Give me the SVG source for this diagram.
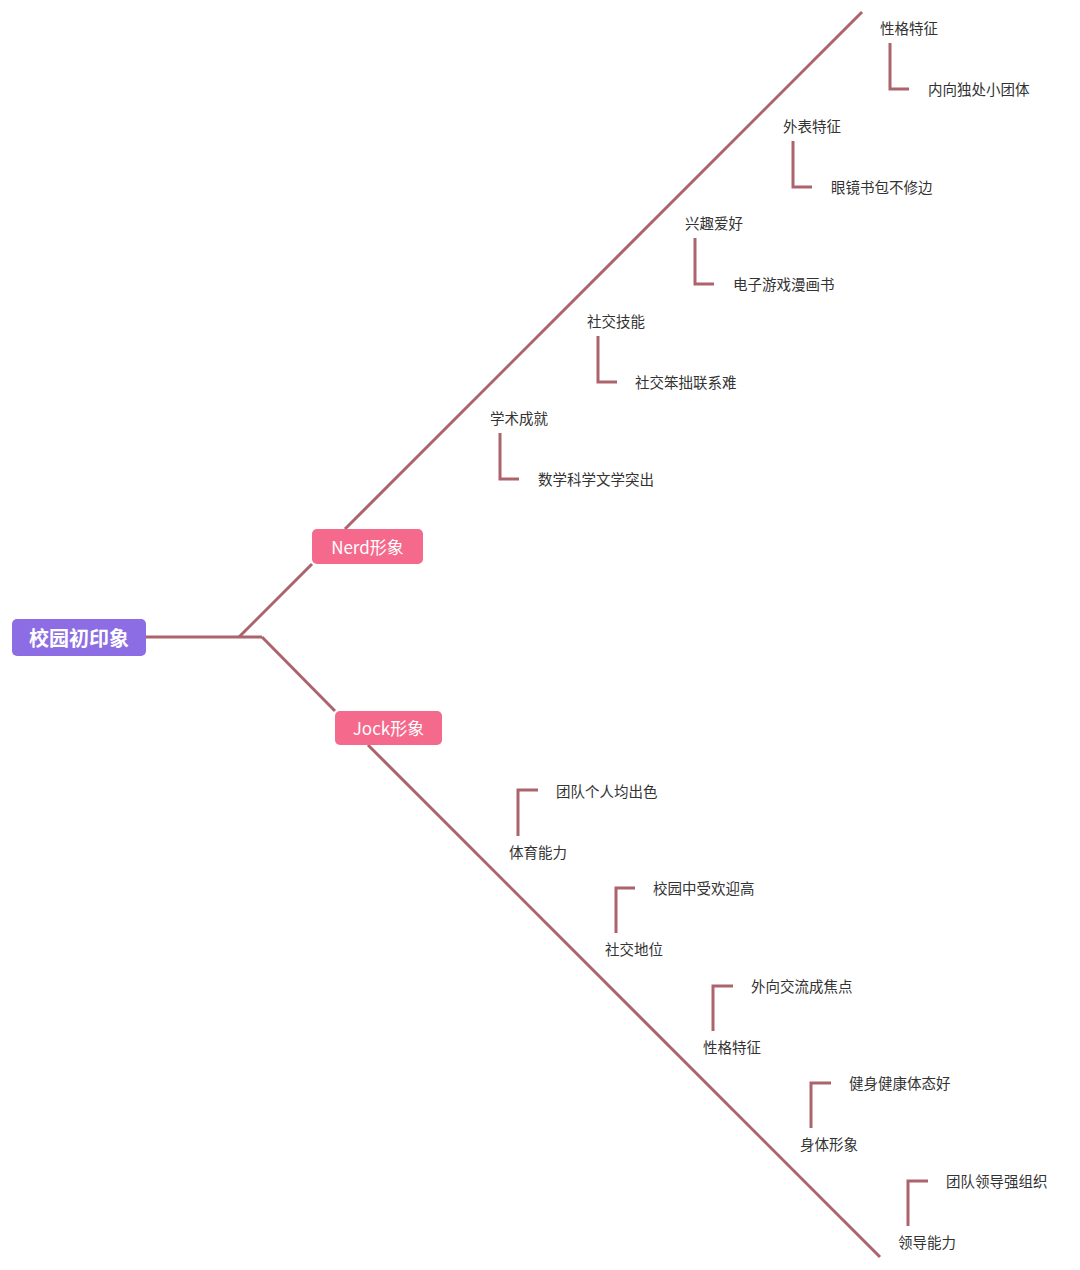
<svg xmlns="http://www.w3.org/2000/svg" width="1080" height="1270" viewBox="0 0 1080 1270">
<style>
.ln{fill:none;stroke:#AC646C;stroke-width:3;stroke-linecap:butt;stroke-linejoin:miter}
.t{font-family:"Noto Sans CJK SC","Noto Sans",sans-serif;font-size:14.5px;fill:#333;dominant-baseline:central}
.wt{font-family:"Noto Sans CJK SC","Noto Sans",sans-serif;fill:#fff;text-anchor:middle;dominant-baseline:central}
</style>
<rect width="1080" height="1270" fill="#fff"/>
<g id="connectors">
<path class="ln" d="M146 637 H262"/>
<path class="ln" d="M239 637 L312 564"/>
<path class="ln" d="M262 637 L335 711"/>
<path class="ln" d="M345 529 L862 12"/>
<path class="ln" d="M368 745 L880 1257"/>
<path class="ln" d="M890 43 V89 H909"/>
<path class="ln" d="M793 141 V187 H812"/>
<path class="ln" d="M695 238 V284 H714"/>
<path class="ln" d="M598 336 V382 H617"/>
<path class="ln" d="M500 433 V479 H519"/>
<path class="ln" d="M518 836 V790 H538"/>
<path class="ln" d="M616 933 V888 H635"/>
<path class="ln" d="M713 1031 V986 H733"/>
<path class="ln" d="M811 1128 V1083 H831"/>
<path class="ln" d="M908 1226 V1181 H928"/>
</g>
<g id="root">
<rect x="12" y="619" width="134" height="37" rx="5" fill="#8C6DE3"/>
<text class="wt" x="79" y="637.5" font-size="20" font-weight="bold">校园初印象</text>
</g>
<g id="nerd">
<rect x="312" y="529" width="111" height="35" rx="5" fill="#F4698C"/>
<text class="wt" x="367.5" y="546.5" font-size="17">Nerd形象</text>
</g>
<g id="jock">
<rect x="335" y="711" width="107" height="34" rx="5" fill="#F4698C"/>
<text class="wt" x="388.5" y="727.5" font-size="17">Jock形象</text>
</g>
<g id="n1"><text class="t" x="880" y="27">性格特征</text></g>
<g id="n1a"><text class="t" x="928" y="88">内向独处小团体</text></g>
<g id="n2"><text class="t" x="783" y="125">外表特征</text></g>
<g id="n2a"><text class="t" x="831" y="186">眼镜书包不修边</text></g>
<g id="n3"><text class="t" x="685" y="222">兴趣爱好</text></g>
<g id="n3a"><text class="t" x="733" y="283">电子游戏漫画书</text></g>
<g id="n4"><text class="t" x="587" y="320">社交技能</text></g>
<g id="n4a"><text class="t" x="635" y="381">社交笨拙联系难</text></g>
<g id="n5"><text class="t" x="490" y="417">学术成就</text></g>
<g id="n5a"><text class="t" x="538" y="478">数学科学文学突出</text></g>
<g id="j1"><text class="t" x="509" y="851">体育能力</text></g>
<g id="j1a"><text class="t" x="556" y="790">团队个人均出色</text></g>
<g id="j2"><text class="t" x="605" y="948">社交地位</text></g>
<g id="j2a"><text class="t" x="653" y="887">校园中受欢迎高</text></g>
<g id="j3"><text class="t" x="703" y="1046">性格特征</text></g>
<g id="j3a"><text class="t" x="751" y="985">外向交流成焦点</text></g>
<g id="j4"><text class="t" x="800" y="1143">身体形象</text></g>
<g id="j4a"><text class="t" x="849" y="1082">健身健康体态好</text></g>
<g id="j5"><text class="t" x="898" y="1241">领导能力</text></g>
<g id="j5a"><text class="t" x="946" y="1180">团队领导强组织</text></g>
</svg>
